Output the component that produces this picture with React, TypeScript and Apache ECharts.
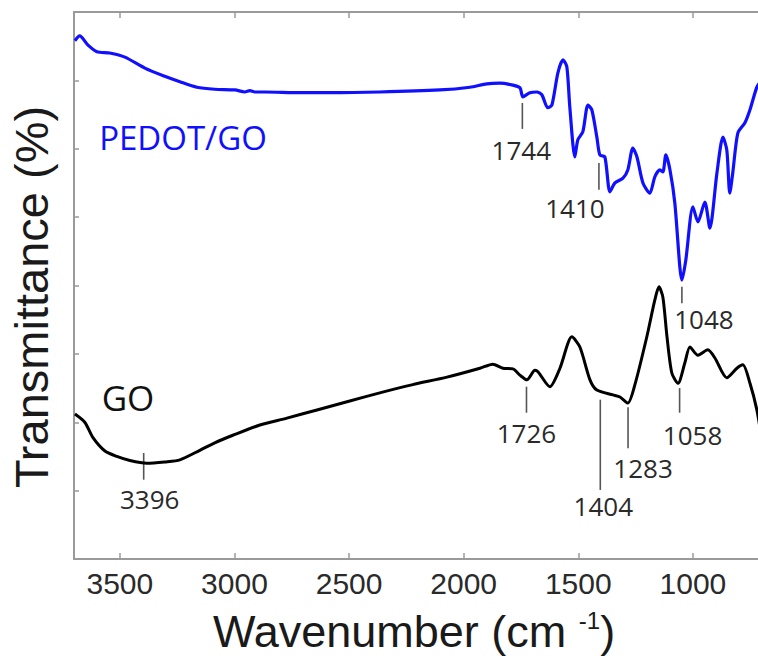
import React, { useEffect, useRef } from "react";
import * as echarts from "echarts";

// PEDOT/GO spectrum (wavenumber, transmittance in arbitrary %)
const pedotWavenumber = [3696, 3675, 3640, 3600, 3544, 3478, 3391, 3304, 3238, 3164, 3086, 2998, 2955, 2933, 2911, 2867, 2715, 2584, 2366, 2104, 1973, 1899, 1842, 1785, 1754, 1742, 1711, 1681, 1659, 1633, 1615, 1589, 1567, 1550, 1537, 1515, 1502, 1480, 1458, 1441, 1419, 1406, 1384, 1362, 1340, 1305, 1284, 1262, 1244, 1218, 1188, 1166, 1144, 1131, 1118, 1100, 1079, 1057, 1048, 1031, 1000, 978, 948, 926, 895, 869, 852, 839, 826, 804, 773, 751, 721, 699];
const pedotTransmittance = [75.8, 76.5, 75.2, 74.2, 74.0, 73.4, 71.8, 70.6, 69.8, 69.0, 68.7, 68.6, 68.3, 68.5, 68.3, 68.3, 68.2, 68.2, 68.3, 68.6, 69.0, 69.5, 69.6, 69.3, 68.9, 67.6, 68.2, 68.3, 67.9, 66.0, 66.4, 71.1, 73.0, 72.0, 66.1, 58.8, 61.3, 62.5, 66.4, 65.7, 61.7, 59.1, 58.8, 53.7, 55.0, 55.7, 56.9, 60.1, 58.8, 55.0, 53.5, 55.9, 56.9, 56.6, 59.1, 56.9, 52.1, 42.7, 40.8, 43.7, 51.5, 49.3, 52.2, 48.4, 56.5, 61.7, 59.8, 53.5, 56.5, 62.3, 63.8, 65.7, 69.0, 70.1];

// GO spectrum
const goWavenumber = [3696, 3653, 3618, 3565, 3513, 3456, 3382, 3304, 3238, 3151, 3086, 3007, 2889, 2771, 2640, 2497, 2366, 2222, 2073, 1929, 1873, 1829, 1785, 1755, 1724, 1689, 1676, 1624, 1580, 1528, 1493, 1449, 1419, 1349, 1318, 1284, 1253, 1201, 1166, 1148, 1131, 1113, 1092, 1065, 1035, 1013, 978, 935, 904, 852, 808, 782, 751, 721, 699];
const goTransmittance = [21.2, 20.0, 17.8, 15.8, 15.0, 14.4, 14.0, 14.2, 14.5, 15.9, 17.0, 18.1, 19.6, 20.6, 21.8, 23.1, 24.3, 25.5, 26.6, 27.9, 28.5, 27.9, 27.8, 26.9, 26.2, 27.6, 27.4, 25.2, 27.9, 32.5, 31.0, 26.2, 24.7, 24.0, 23.7, 22.8, 25.5, 32.5, 37.9, 39.8, 38.3, 32.5, 27.2, 25.7, 28.7, 31.0, 29.8, 30.6, 29.4, 26.5, 27.9, 28.4, 25.7, 21.8, 17.4];

// Peak annotations
const peakLabels = ["1744", "1410", "1048", "3396", "1726", "1404", "1283", "1058"];
const peakWavenumber = [1744, 1410, 1048, 3396, 1726, 1404, 1283, 1058];
const peakMarkTop = [66.7, 57.9, 39.8, 15.5, 25.2, 23.3, 22.2, 25.0];
const peakMarkBottom = [62.9, 54.0, 37.4, 11.6, 21.4, 10.1, 16.2, 21.4];

// x-axis tick labels
const xTicks = [1000, 1500, 2000, 2500, 3000, 3500];

// label layout offsets (pixels) — styling only
const labelDx = [-1, -24, 22, 6, 0, 3, 15, 13];
const labelDy = [21, 18.5, 15.5, 19, 20, 16, 20, 22];

const AXIS_COLOR = "#9a9a9a";

export default function App() {
  const ref = useRef<HTMLDivElement>(null);

  useEffect(() => {
    if (!ref.current) return;
    const chart = echarts.init(ref.current, undefined, { renderer: "svg" });

    const pedotData = pedotWavenumber.map((w, i) => [w, pedotTransmittance[i]]);
    const goData = goWavenumber.map((w, i) => [w, goTransmittance[i]]);
    const annoData = peakWavenumber.map((w, i) => [w, peakMarkTop[i], peakMarkBottom[i], i]);

    const xCommon = {
      type: "value" as const,
      min: 716,
      max: 3700,
      inverse: true,
      splitLine: { show: false },
      axisLine: { show: true, lineStyle: { color: AXIS_COLOR, width: 2 } },
    };

    chart.setOption({
      animation: false,
      backgroundColor: "#ffffff",
      grid: { left: 74, right: 0, top: 12, bottom: 97, containLabel: false },
      xAxis: [
        {
          ...xCommon,
          position: "bottom",
          axisTick: { show: true, inside: true, length: 6, customValues: xTicks, lineStyle: { color: AXIS_COLOR, width: 1.5 } },
          axisLabel: {
            show: true,
            customValues: xTicks,
            formatter: (v: number) => String(Math.round(v)),
            margin: 9,
            fontSize: 30,
            color: "#2a2a2a",
            fontFamily: "Liberation Sans",
          },
        },
        {
          ...xCommon,
          position: "top",
          axisTick: { show: true, inside: true, length: 6, customValues: xTicks, lineStyle: { color: AXIS_COLOR, width: 1.5 } },
          axisLabel: { show: false },
        },
      ],
      yAxis: {
        type: "value",
        min: 0,
        max: 80,
        interval: 10,
        splitLine: { show: false },
        axisLine: { show: true, lineStyle: { color: AXIS_COLOR, width: 2 } },
        axisTick: { show: true, inside: true, length: 5, lineStyle: { color: AXIS_COLOR, width: 1.5 } },
        axisLabel: { show: false },
      },
      series: [
        {
          name: "PEDOT/GO",
          type: "line",
          data: pedotData,
          showSymbol: false,
          smooth: 0.25,
          lineStyle: { color: "#1010ff", width: 3.2, join: "round" },
          itemStyle: { color: "#1010ff" },
        },
        {
          name: "GO",
          type: "line",
          data: goData,
          showSymbol: false,
          smooth: 0.25,
          lineStyle: { color: "#000000", width: 3, join: "round" },
          itemStyle: { color: "#000000" },
        },
        {
          name: "peaks",
          type: "custom",
          data: annoData,
          renderItem: (params: any, api: any) => {
            const w = api.value(0);
            const top = api.coord([w, api.value(1)]);
            const bot = api.coord([w, api.value(2)]);
            const idx = api.value(3);
            return {
              type: "group",
              children: [
                {
                  type: "line",
                  shape: { x1: top[0], y1: top[1], x2: bot[0], y2: bot[1] },
                  style: { stroke: "#555555", lineWidth: 1.6 },
                },
                {
                  type: "text",
                  x: bot[0] + labelDx[idx],
                  y: bot[1] + labelDy[idx],
                  style: {
                    text: peakLabels[idx],
                    fill: "#2a2a2a",
                    fontSize: 26,
                    fontFamily: "Open Sans",
                    align: "center",
                    verticalAlign: "middle",
                  },
                },
              ],
            };
          },
        },
      ],
      graphic: [
        {
          type: "text",
          x: 414,
          y: 631,
          style: {
            text: "Wavenumber (cm {sup|-1})",
            fontSize: 45,
            fontFamily: "Liberation Sans",
            fill: "#1a1a1a",
            align: "center",
            verticalAlign: "middle",
            rich: {
              sup: { fontSize: 24, fontFamily: "Liberation Sans", fill: "#1a1a1a", verticalAlign: "top" },
            },
          },
        },
        {
          type: "text",
          x: 31,
          y: 297,
          rotation: Math.PI / 2,
          style: {
            text: "Transmittance (%)",
            fontSize: 47,
            fontFamily: "Liberation Sans",
            fill: "#1a1a1a",
            align: "center",
            verticalAlign: "middle",
          },
        },
        {
          type: "text",
          x: 183,
          y: 137,
          style: {
            text: "PEDOT/GO",
            fontSize: 33,
            fontFamily: "Open Sans",
            fill: "#1010ff",
            align: "center",
            verticalAlign: "middle",
          },
        },
        {
          type: "text",
          x: 128,
          y: 397,
          style: {
            text: "GO",
            fontSize: 35,
            fontFamily: "Open Sans",
            fill: "#111111",
            align: "center",
            verticalAlign: "middle",
          },
        },
      ],
    });

    return () => chart.dispose();
  }, []);

  return (
    <div
      ref={ref}
      style={{ position: "fixed", left: 0, top: 0, width: 758, height: 656, background: "#fff" }}
    />
  );
}
